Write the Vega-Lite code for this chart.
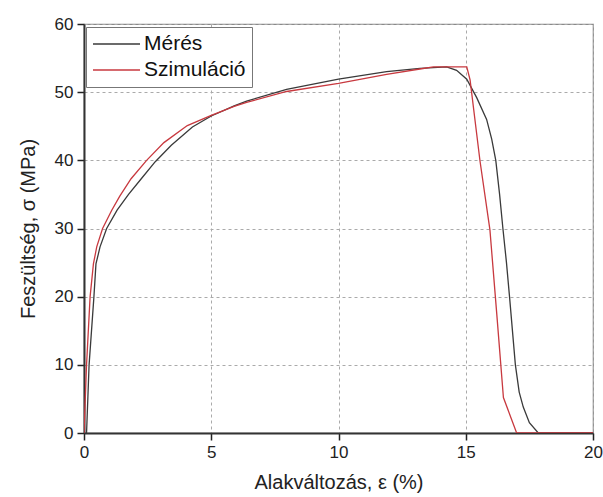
{
  "$schema": "https://vega.github.io/schema/vega-lite/v6.json",
  "autosize": {"type": "none"},
  "width": 509,
  "height": 409,
  "padding": {"left": 84, "top": 24, "right": 10, "bottom": 64},
  "background": "white",
  "config": {
    "font": "Liberation Sans",
    "view": {"stroke": "#8a8a8a", "strokeWidth": 1.2},
    "axis": {"ticks": true, "tickColor": "#222", "tickOpacity": 1, "tickWidth": 1.5, "tickCap": "butt", "tickRound": true}
  },
  "data": {
    "values": [
      {"e": 0.1, "s": 0, "series": "Mérés"},
      {"e": 0.2, "s": 10, "series": "Mérés"},
      {"e": 0.39, "s": 20, "series": "Mérés"},
      {"e": 0.47, "s": 24.8, "series": "Mérés"},
      {"e": 0.63, "s": 27.3, "series": "Mérés"},
      {"e": 0.89, "s": 30, "series": "Mérés"},
      {"e": 1.3, "s": 32.7, "series": "Mérés"},
      {"e": 1.75, "s": 35, "series": "Mérés"},
      {"e": 2.25, "s": 37.3, "series": "Mérés"},
      {"e": 2.8, "s": 39.8, "series": "Mérés"},
      {"e": 3.43, "s": 42.2, "series": "Mérés"},
      {"e": 4.26, "s": 44.9, "series": "Mérés"},
      {"e": 5.0, "s": 46.5, "series": "Mérés"},
      {"e": 5.9, "s": 48.0, "series": "Mérés"},
      {"e": 6.39, "s": 48.7, "series": "Mérés"},
      {"e": 7.96, "s": 50.4, "series": "Mérés"},
      {"e": 10.0, "s": 51.9, "series": "Mérés"},
      {"e": 11.89, "s": 53.0, "series": "Mérés"},
      {"e": 13.2, "s": 53.5, "series": "Mérés"},
      {"e": 14.25, "s": 53.7, "series": "Mérés"},
      {"e": 14.64, "s": 53.2, "series": "Mérés"},
      {"e": 15.04, "s": 51.9, "series": "Mérés"},
      {"e": 15.43, "s": 49.2, "series": "Mérés"},
      {"e": 15.82, "s": 46.0, "series": "Mérés"},
      {"e": 16.02, "s": 43.1, "series": "Mérés"},
      {"e": 16.18, "s": 40, "series": "Mérés"},
      {"e": 16.33, "s": 35, "series": "Mérés"},
      {"e": 16.46, "s": 30, "series": "Mérés"},
      {"e": 16.6, "s": 25, "series": "Mérés"},
      {"e": 16.72, "s": 20, "series": "Mérés"},
      {"e": 16.95, "s": 10, "series": "Mérés"},
      {"e": 17.1, "s": 6, "series": "Mérés"},
      {"e": 17.26, "s": 3.8, "series": "Mérés"},
      {"e": 17.5, "s": 1.5, "series": "Mérés"},
      {"e": 17.85, "s": 0, "series": "Mérés"},
      {"e": 20.0, "s": 0, "series": "Mérés"},
      {"e": 0.0, "s": 0, "series": "Szimuláció"},
      {"e": 0.1, "s": 10, "series": "Szimuláció"},
      {"e": 0.24, "s": 20, "series": "Szimuláció"},
      {"e": 0.37, "s": 24.8, "series": "Szimuláció"},
      {"e": 0.5, "s": 27.3, "series": "Szimuláció"},
      {"e": 0.73, "s": 30, "series": "Szimuláció"},
      {"e": 1.08, "s": 32.6, "series": "Szimuláció"},
      {"e": 1.4, "s": 34.7, "series": "Szimuláció"},
      {"e": 1.85, "s": 37.3, "series": "Szimuláció"},
      {"e": 2.46, "s": 40, "series": "Szimuláció"},
      {"e": 3.14, "s": 42.6, "series": "Szimuláció"},
      {"e": 4.06, "s": 45.1, "series": "Szimuláció"},
      {"e": 5.0, "s": 46.6, "series": "Szimuláció"},
      {"e": 5.9, "s": 47.9, "series": "Szimuláció"},
      {"e": 6.39, "s": 48.5, "series": "Szimuláció"},
      {"e": 7.96, "s": 50.1, "series": "Szimuláció"},
      {"e": 10.0, "s": 51.3, "series": "Szimuláció"},
      {"e": 11.89, "s": 52.6, "series": "Szimuláció"},
      {"e": 13.2, "s": 53.4, "series": "Szimuláció"},
      {"e": 13.73, "s": 53.7, "series": "Szimuláció"},
      {"e": 15.04, "s": 53.7, "series": "Szimuláció"},
      {"e": 15.17, "s": 51.8, "series": "Szimuláció"},
      {"e": 15.56, "s": 39.9, "series": "Szimuláció"},
      {"e": 15.95, "s": 29.8, "series": "Szimuláció"},
      {"e": 16.0, "s": 27.5, "series": "Szimuláció"},
      {"e": 16.22, "s": 17.4, "series": "Szimuláció"},
      {"e": 16.48, "s": 5.2, "series": "Szimuláció"},
      {"e": 17.0, "s": 0, "series": "Szimuláció"},
      {"e": 20.0, "s": 0, "series": "Szimuláció"}
    ]
  },
  "mark": {"type": "line", "strokeWidth": 1.3, "clip": true},
  "encoding": {
    "x": {
      "field": "e",
      "type": "quantitative",
      "scale": {"domain": [0, 20], "nice": false, "zero": false},
      "axis": {
        "title": "Alakváltozás, ε (%)",
        "titleFont": "Liberation Sans",
        "titleFontSize": 20,
        "titleFontWeight": "normal",
        "titleColor": "#222",
        "titlePadding": 12,
        "values": [0, 5, 10, 15, 20],
        "labelFontSize": 17,
        "labelColor": "#222",
        "labelPadding": 4,
        "labelFlush": false,
        "domainColor": "#333",
        "domainWidth": 2,
        "tickSize": 7,
        "grid": true,
        "gridColor": "#aaaaaa",
        "gridWidth": 1,
        "gridDash": [3, 3]
      }
    },
    "y": {
      "field": "s",
      "type": "quantitative",
      "scale": {"domain": [0, 60], "nice": false},
      "axis": {
        "title": "Feszültség, σ (MPa)",
        "titleFont": "Liberation Sans",
        "titleFontSize": 20,
        "titleFontWeight": "normal",
        "titleColor": "#222",
        "titlePadding": 16,
        "values": [0, 10, 20, 30, 40, 50, 60],
        "labelFontSize": 17,
        "labelColor": "#222",
        "labelPadding": 4,
        "labelFlush": false,
        "domainColor": "#333",
        "domainWidth": 2,
        "tickSize": 7,
        "grid": true,
        "gridColor": "#aaaaaa",
        "gridWidth": 1,
        "gridDash": [3, 3]
      }
    },
    "color": {
      "field": "series",
      "type": "nominal",
      "scale": {"domain": ["Mérés", "Szimuláció"], "range": ["#3a3a3a", "#c8393f"]},
      "legend": {
        "title": null,
        "orient": "none",
        "legendX": 2,
        "legendY": 3,
        "padding": 6,
        "strokeColor": "#777",
        "fillColor": "white",
        "symbolType": "stroke",
        "symbolSize": 2209,
        "symbolStrokeWidth": 1.5,
        "labelFontSize": 21,
        "labelColor": "#111",
        "labelOffset": 3,
        "clipHeight": 22,
        "rowPadding": 4
      }
    }
  }
}
